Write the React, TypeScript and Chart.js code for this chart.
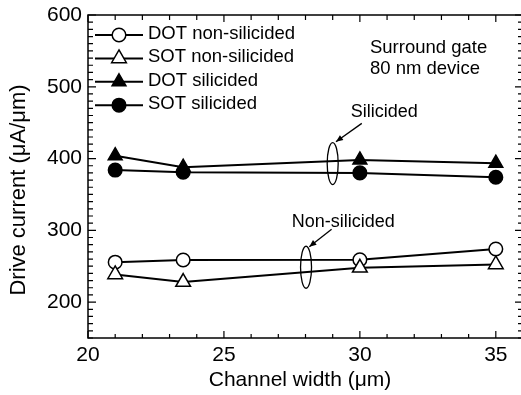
import React, { useEffect, useRef } from 'react';
import { Chart, registerables } from 'chart.js';

Chart.register(...registerables);

// Channel width (µm) of the measured devices
const channelWidth = [21, 23.5, 30, 35];

// Drive current (µA/µm) per device type
const dotNonSilicided = [255.6, 258.7, 259, 274];
const sotNonSilicided = [238.5, 228, 247.8, 252.4];
const dotSilicided = [404, 388, 398, 393.5];
const sotSilicided = [384, 381, 380, 374];

const seriesLabels = ['DOT non-silicided', 'SOT non-silicided', 'DOT silicided', 'SOT silicided'];

const xTickValues = [20, 25, 30, 35];
const yTickValues = [200, 300, 400, 500, 600];

const infoLines = ['Surround gate', '80 nm device'];

const FONT = "'Liberation Sans', Arial, Helvetica, sans-serif";

type Callout = {
  text: string;
  textAt: [number, number];
  arrowFrom: [number, number];
  arrowTo: [number, number];
  ellipseAt: [number, number];
};

// Group labels with an arrow pointing at the ellipse that brackets the pair of curves
const callouts: Callout[] = [
  { text: 'Silicided', textAt: [29.66, 457.9], arrowFrom: [30.07, 449], arrowTo: [29.12, 423.5], ellipseAt: [29, 393] },
  { text: 'Non-silicided', textAt: [27.49, 305], arrowFrom: [28.96, 301.4], arrowTo: [28.14, 277.2], ellipseAt: [28.02, 248.6] },
];

function drawMarker(ctx: CanvasRenderingContext2D, style: string, filled: boolean, x: number, y: number, r: number) {
  ctx.beginPath();
  if (style === 'triangle') {
    let rad = 0;
    ctx.moveTo(x + Math.sin(rad) * r, y - Math.cos(rad) * r);
    rad += (2 * Math.PI) / 3;
    ctx.lineTo(x + Math.sin(rad) * r, y - Math.cos(rad) * r);
    rad += (2 * Math.PI) / 3;
    ctx.lineTo(x + Math.sin(rad) * r, y - Math.cos(rad) * r);
    ctx.closePath();
  } else {
    ctx.arc(x, y, r, 0, Math.PI * 2);
  }
  ctx.fillStyle = filled ? '#000' : '#fff';
  ctx.fill();
  ctx.lineWidth = 1.5;
  ctx.strokeStyle = '#000';
  ctx.stroke();
}

const framePlugin = {
  id: 'frameAndNotes',
  afterDraw(chart: any) {
    const { ctx, chartArea, scales } = chart;
    const { left, right, top, bottom } = chartArea;
    const xs = scales.x;
    const ys = scales.y;
    ctx.save();

    // plot frame
    ctx.strokeStyle = '#000';
    ctx.lineWidth = 1.5;
    ctx.strokeRect(left, top, right - left, bottom - top);

    // inward ticks on all four sides
    ctx.lineWidth = 1.2;
    ctx.beginPath();
    for (let v = xs.min; v <= xs.max + 1e-6; v += 1) {
      const px = xs.getPixelForValue(v);
      const major = Math.abs(v % 5) < 1e-6;
      const lb = major ? 7 : 4;
      const lt = major ? 7 : 5;
      ctx.moveTo(px, bottom);
      ctx.lineTo(px, bottom - lb);
      ctx.moveTo(px, top);
      ctx.lineTo(px, top + lt);
    }
    for (let v = ys.min; v <= ys.max + 1e-6; v += 10) {
      const py = ys.getPixelForValue(v);
      const major = Math.abs(v % 100) < 1e-6;
      const len = major ? 8 : 5;
      ctx.moveTo(left, py);
      ctx.lineTo(left + len, py);
      ctx.moveTo(right, py);
      ctx.lineTo(right - len, py);
    }
    ctx.stroke();

    // axis titles
    ctx.fillStyle = '#000';
    ctx.font = `21px ${FONT}`;
    ctx.textAlign = 'center';
    ctx.textBaseline = 'alphabetic';
    ctx.fillText('Channel width (\u03bcm)', 300, 386);
    ctx.save();
    ctx.translate(19, 190);
    ctx.rotate(-Math.PI / 2);
    ctx.textBaseline = 'middle';
    ctx.font = `22px ${FONT}`;
    ctx.fillText('Drive current (\u03bcA/\u03bcm)', 0, 0);
    ctx.restore();

    // legend
    const datasets = chart.data.datasets;
    ctx.font = `18.5px ${FONT}`;
    ctx.textAlign = 'left';
    ctx.textBaseline = 'middle';
    datasets.forEach((ds: any, i: number) => {
      const ry = top + 20 + i * 23.4;
      ctx.beginPath();
      ctx.lineWidth = 2;
      ctx.strokeStyle = '#000';
      ctx.moveTo(left + 7, ry);
      ctx.lineTo(left + 55, ry);
      ctx.stroke();
      drawMarker(ctx, ds.pointStyle, ds.pointBackgroundColor === '#000', left + 31, ry, ds.pointRadius);
      ctx.fillStyle = '#000';
      ctx.fillText(ds.label, left + 60, ry - 1);
    });

    // device note
    ctx.font = `18.5px ${FONT}`;
    ctx.textBaseline = 'alphabetic';
    const nx = xs.getPixelForValue(30.37);
    ctx.fillText(infoLines[0], nx, ys.getPixelForValue(547));
    ctx.fillText(infoLines[1], nx, ys.getPixelForValue(517.8));

    // callouts
    ctx.font = `18px ${FONT}`;
    callouts.forEach((c) => {
      ctx.fillStyle = '#000';
      ctx.textAlign = 'left';
      ctx.fillText(c.text, xs.getPixelForValue(c.textAt[0]), ys.getPixelForValue(c.textAt[1]));
      const x0 = xs.getPixelForValue(c.arrowFrom[0]);
      const y0 = ys.getPixelForValue(c.arrowFrom[1]);
      const x1 = xs.getPixelForValue(c.arrowTo[0]);
      const y1 = ys.getPixelForValue(c.arrowTo[1]);
      ctx.beginPath();
      ctx.lineWidth = 1.3;
      ctx.strokeStyle = '#000';
      ctx.moveTo(x0, y0);
      ctx.lineTo(x1, y1);
      ctx.stroke();
      const ang = Math.atan2(y1 - y0, x1 - x0);
      const hl = 7;
      const hw = 3;
      ctx.beginPath();
      ctx.moveTo(x1, y1);
      ctx.lineTo(x1 - hl * Math.cos(ang) + hw * Math.sin(ang), y1 - hl * Math.sin(ang) - hw * Math.cos(ang));
      ctx.lineTo(x1 - hl * Math.cos(ang) - hw * Math.sin(ang), y1 - hl * Math.sin(ang) + hw * Math.cos(ang));
      ctx.closePath();
      ctx.fill();
      ctx.beginPath();
      ctx.lineWidth = 1.3;
      ctx.ellipse(xs.getPixelForValue(c.ellipseAt[0]), ys.getPixelForValue(c.ellipseAt[1]), 5.5, 21, 0, 0, Math.PI * 2);
      ctx.stroke();
    });

    ctx.restore();
  },
};

function series(label: string, values: number[], style: string, filled: boolean, radius: number, order: number) {
  return {
    label,
    data: channelWidth.map((x, i) => ({ x, y: values[i] })),
    borderColor: '#000',
    borderWidth: 2,
    pointStyle: style,
    pointRadius: radius,
    pointBackgroundColor: filled ? '#000' : '#fff',
    pointBorderColor: '#000',
    pointBorderWidth: 1.5,
    tension: 0,
    order,
  };
}

export default function App() {
  const canvasRef = useRef<HTMLCanvasElement | null>(null);

  useEffect(() => {
    const canvas = canvasRef.current;
    if (!canvas) return;
    const tickFont = { family: FONT, size: 21 };
    const chart = new Chart(canvas, {
      type: 'line',
      data: {
        datasets: [
          series(seriesLabels[0], dotNonSilicided, 'circle', false, 6.8, 1),
          series(seriesLabels[1], sotNonSilicided, 'triangle', false, 8.5, 0),
          series(seriesLabels[2], dotSilicided, 'triangle', true, 8, 2),
          series(seriesLabels[3], sotSilicided, 'circle', true, 6.8, 3),
        ],
      } as any,
      options: {
        responsive: false,
        animation: false,
        layout: { autoPadding: false, padding: { left: 0, top: 15, right: 1, bottom: 0 } },
        plugins: { legend: { display: false }, tooltip: { enabled: false } },
        scales: {
          x: {
            type: 'linear',
            min: 20,
            max: 36,
            afterBuildTicks: (s: any) => {
              s.ticks = xTickValues.map((value) => ({ value }));
            },
            afterFit: (s: any) => {
              s.height = 57;
              s.paddingLeft = 0;
              s.paddingRight = 0;
            },
            grid: { display: false, drawTicks: false },
            border: { display: false },
            ticks: { padding: 5, color: '#000', font: tickFont, maxRotation: 0, autoSkip: false },
          },
          y: {
            type: 'linear',
            min: 150,
            max: 600,
            afterBuildTicks: (s: any) => {
              s.ticks = yTickValues.map((value) => ({ value }));
            },
            afterFit: (s: any) => {
              s.width = 88;
              s.paddingTop = 0;
              s.paddingBottom = 0;
            },
            grid: { display: false, drawTicks: false },
            border: { display: false },
            ticks: { padding: 6, color: '#000', font: tickFont, autoSkip: false },
          },
        },
      } as any,
      plugins: [framePlugin],
    });
    return () => chart.destroy();
  }, []);

  return (
    <div style={{ position: 'fixed', left: 0, top: 0, width: 521, height: 395, overflow: 'hidden', background: '#fff' }}>
      <canvas ref={canvasRef} width={524} height={395} style={{ display: 'block' }} />
    </div>
  );
}
